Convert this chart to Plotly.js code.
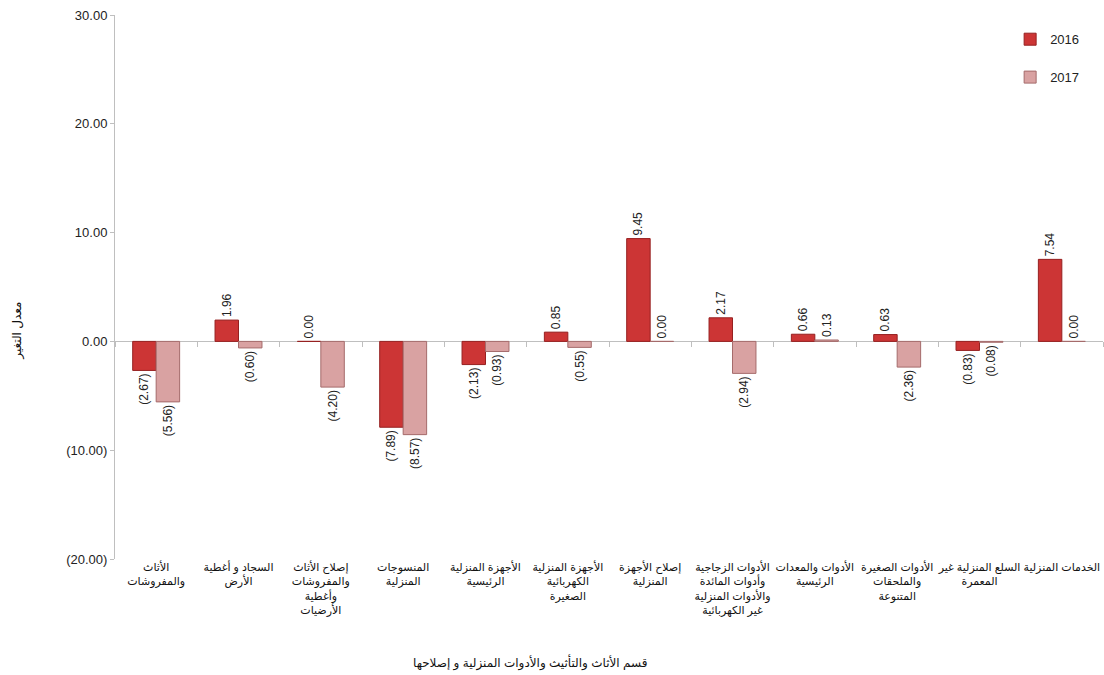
<!DOCTYPE html>
<html>
<head>
<meta charset="utf-8">
<script src="https://cdn.plot.ly/plotly-3.0.1.min.js"></script>
<style>html,body{margin:0;padding:0;background:#fff;}#chart{width:1104px;height:675px;}</style>
</head>
<body>
<div id="chart"></div>
<script>
var categories = [
  "الأثاث<br>والمفروشات",
  "السجاد و أغطية<br>الأرض",
  "إصلاح الأثاث<br>والمفروشات<br>وأغطية<br>الأرضيات",
  "المنسوجات<br>المنزلية",
  "الأجهزة المنزلية<br>الرئيسية",
  "الأجهزة المنزلية<br>الكهربائية<br>الصغيرة",
  "إصلاح الأجهزة<br>المنزلية",
  "الأدوات الزجاجية<br>وأدوات المائدة<br>والأدوات المنزلية<br>غير الكهربائية",
  "الأدوات والمعدات<br>الرئيسية",
  "الأدوات الصغيرة<br>والملحقات<br>المتنوعة",
  "السلع المنزلية غير<br>المعمرة",
  "الخدمات المنزلية"
];
var values2016 = [-2.67, 1.96, 0.00, -7.89, -2.13, 0.85, 9.45, 2.17, 0.66, 0.63, -0.83, 7.54];
var values2017 = [-5.56, -0.60, -4.20, -8.57, -0.93, -0.55, 0.00, -2.94, 0.13, -2.36, -0.08, 0.00];
var yTicks = [-20, -10, 0, 10, 20, 30];
var seriesNames = ["2016", "2017"];

function fmt(v) {
  var s = Math.abs(v).toFixed(2);
  return v < 0 ? "(" + s + ")" : s;
}

var FONT = "Liberation Sans, Arial, DejaVu Sans, sans-serif";

var boundaries = [];
for (var i = 0; i <= categories.length; i++) boundaries.push(i - 0.5);

var traces = [
  {
    type: "bar", name: seriesNames[0], x: categories, y: values2016,
    text: values2016.map(fmt), textposition: "outside", textangle: -90, constraintext: "none",
    textfont: {family: FONT, size: 12, color: "#222"},
    marker: {color: "#CC3535", line: {color: "#962020", width: 1}},
    legendgroup: "a", cliponaxis: false
  },
  {
    type: "bar", name: seriesNames[1], x: categories, y: values2017,
    text: values2017.map(fmt), textposition: "outside", textangle: -90, constraintext: "none",
    textfont: {family: FONT, size: 12, color: "#222"},
    marker: {color: "#D9A2A2", line: {color: "#A56B6B", width: 1}},
    legendgroup: "b", cliponaxis: false
  },
  {
    type: "scatter", x: [0, 11], y: [0, 0], xaxis: "x2", mode: "none",
    showlegend: false, hoverinfo: "skip"
  }
];

var layout = {
  width: 1104, height: 675,
  margin: {l: 115, r: 1, t: 15, b: 116},
  paper_bgcolor: "#fff", plot_bgcolor: "#fff",
  font: {family: FONT, size: 12, color: "#222"},
  barmode: "group", bargap: 0.43, bargroupgap: 0,
  showlegend: true,
  legend: {x: 0.906, y: 0.983, xanchor: "left", yanchor: "top",
           font: {family: FONT, size: 13, color: "#222"},
           traceorder: "grouped", tracegroupgap: 18, bgcolor: "rgba(0,0,0,0)"},
  xaxis: {
    type: "category", showline: false, ticks: "", showgrid: false, zeroline: false,
    tickfont: {family: FONT, size: 11, color: "#111"}, tickangle: 0, automargin: false
  },
  xaxis2: {
    overlaying: "x", anchor: "free", position: 0.4, type: "linear",
    range: [-0.5, categories.length - 0.5], tickvals: boundaries,
    ticks: "outside", ticklen: 5, tickcolor: "#BFBFBF", tickwidth: 1,
    showticklabels: false, showgrid: false, zeroline: false, showline: false
  },
  yaxis: {
    range: [-20, 30], tickvals: yTicks, ticktext: yTicks.map(fmt),
    showline: true, linecolor: "#BFBFBF", linewidth: 1,
    ticks: "outside", ticklen: 4, tickcolor: "#BFBFBF",
    showgrid: false, zeroline: true, zerolinecolor: "#BFBFBF", zerolinewidth: 1,
    tickfont: {family: FONT, size: 13, color: "#222"}, automargin: false
  },
  annotations: [
    {text: "قسم الأثاث والتأثيث والأدوات المنزلية و إصلاحها", xref: "paper", yref: "paper",
     x: 0.42, y: -0.19, xanchor: "center", yanchor: "middle", showarrow: false,
     font: {family: FONT, size: 12, color: "#111"}},
    {text: "معدل التغير", xref: "paper", yref: "paper", x: -0.099, y: 0.42,
     xanchor: "center", yanchor: "middle", showarrow: false, textangle: -90,
     font: {family: FONT, size: 12, color: "#111"}}
  ]
};

Plotly.newPlot("chart", traces, layout, {displayModeBar: false, staticPlot: true});
</script>
</body>
</html>
